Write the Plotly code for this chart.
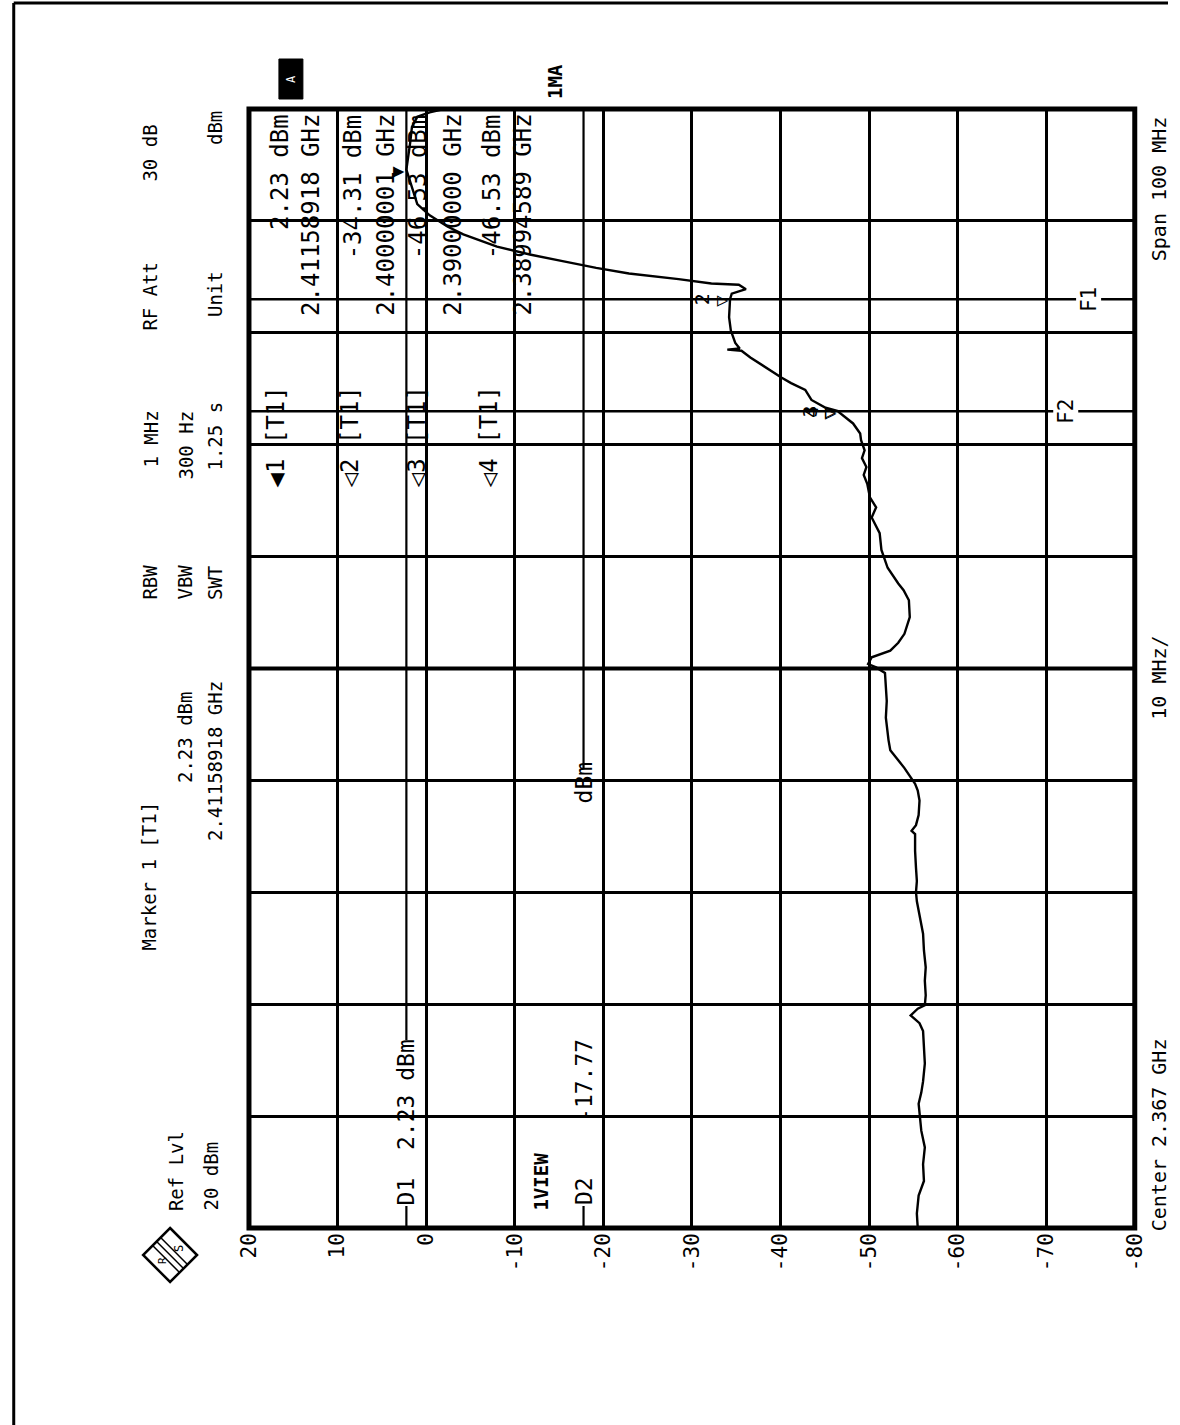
import plotly.graph_objects as go

# ---------------------------------------------------------------------------
# Spectrum analyzer plot (R&S style screen dump, printed rotated 90 degrees)
# ---------------------------------------------------------------------------
W, H = 1180, 1425
FONT = "DejaVu Sans Mono"

# screen settings
ref_level_dbm = 20
bottom_level_dbm = -80
center_ghz = 2.367
span_ghz = 0.100

level_ticks = [20, 10, 0, -10, -20, -30, -40, -50, -60, -70, -80]
level_tick_labels = ["20", "10", "0", "-10", "-20", "-30", "-40", "-50", "-60", "-70", "-80"]

# measured trace (frequency in GHz, level in dBm)
trace_freq_ghz = [
    2.3170, 2.3183, 2.3199, 2.3212, 2.3227, 2.3242, 2.3257, 2.3268, 2.3281, 2.3291,
    2.3301, 2.3317, 2.3331, 2.3346, 2.3353, 2.3360, 2.3366, 2.3369, 2.3378, 2.3391,
    2.3403, 2.3418, 2.3433, 2.3449, 2.3462, 2.3470, 2.3480, 2.3492, 2.3507, 2.3522,
    2.3525, 2.3530, 2.3539, 2.3552, 2.3561, 2.3567, 2.3574, 2.3581, 2.3588, 2.3597,
    2.3606, 2.3612, 2.3626, 2.3641, 2.3655, 2.3666, 2.3671, 2.3674, 2.3680, 2.3686,
    2.3693, 2.3701, 2.3716, 2.3731, 2.3740, 2.3746, 2.3760, 2.3776, 2.3791, 2.3805,
    2.3814, 2.3823, 2.3835, 2.3843, 2.3850, 2.3858, 2.3865, 2.3874, 2.3880, 2.3889,
    2.38994589, 2.3900, 2.3903, 2.3910, 2.3919, 2.3925, 2.3930, 2.3939, 2.3948, 2.3954,
    2.3955, 2.3956, 2.3961, 2.3972, 2.3984, 2.40000001, 2.4005, 2.4009, 2.4013, 2.4014,
    2.4018, 2.4023, 2.4028, 2.4034, 2.4040, 2.4047, 2.4058, 2.4065, 2.4075, 2.4085,
    2.4100, 2.41158918, 2.4140, 2.4154, 2.4163, 2.4167, 2.4170,
]
trace_level_dbm = [
    -55.5, -55.4, -55.6, -56.2, -56.1, -56.3, -55.9, -55.8, -55.6, -55.9,
    -56.1, -56.3, -56.2, -56.1, -55.7, -54.7, -55.5, -56.3, -56.4, -56.3,
    -56.4, -56.2, -56.1, -55.7, -55.4, -55.3, -55.4, -55.3, -55.2, -55.2,
    -54.8, -55.3, -55.6, -55.7, -55.5, -55.2, -54.6, -54.0, -53.3, -52.4,
    -52.2, -52.1, -51.9, -52.0, -51.9, -51.8, -50.8, -49.9, -50.3, -52.4,
    -53.3, -54.0, -54.6, -54.5, -53.9, -53.3, -52.1, -51.4, -51.2, -50.3,
    -50.8, -50.1, -49.8, -49.4, -49.7, -49.2, -49.5, -49.1, -49.0, -48.2,
    -46.53, -46.53, -45.1, -43.5, -42.8, -41.2, -40.1, -38.3, -36.6, -35.6,
    -34.0, -35.4, -34.9, -34.4, -34.2, -34.31, -34.5, -36.1, -35.3, -32.2,
    -28.5, -22.9, -19.2, -15.4, -11.7, -8.0, -4.2, -2.4, -0.4, 1.0,
    1.6, 2.23, 1.8, 1.6, 1.0, -0.4, -2.0,
]

# markers
marker_ids = [1, 2, 3, 4]
marker_freq_ghz = [2.41158918, 2.40000001, 2.39000000, 2.38994589]
marker_level_dbm = [2.23, -34.31, -46.53, -46.53]

# display lines and frequency lines
display_line_names = ["D1", "D2"]
display_line_dbm = [2.23, -17.77]
freq_line_names = ["F1", "F2"]
freq_line_ghz = [2.400, 2.390]

# screen geometry in page pixels
PX0, PX1 = 249, 1136
PY0, PY1 = 109, 1228
# horizontal placement correction of the rendered page (offset, scale)
OX, SX = 11.7, 0.981

f_lo = center_ghz - span_ghz / 2
f_hi = center_ghz + span_ghz / 2
freq_grid = [f_lo + i * span_ghz / 10 for i in range(11)]


def xp(px):
    return (px - OX) / SX / W


def yp(py):
    return 1 - py / H


def lvl_px(a):
    return PX0 + (ref_level_dbm - a) / (ref_level_dbm - bottom_level_dbm) * (PX1 - PX0)


def frq_py(f):
    return PY0 + (f_hi - f) / span_ghz * (PY1 - PY0)


def vtext(text, x, y, anchor="bottom", size=19, bold=False, bg=None):
    """Rotated (bottom-to-top) text placed in page pixels."""
    return dict(
        text=f"<b>{text}</b>" if bold else text,
        x=xp(x), y=yp(y), xref="paper", yref="paper",
        textangle=-90, xanchor="center", yanchor=anchor,
        showarrow=False, borderpad=0, bgcolor=bg,
        font=dict(family=FONT, size=size, color="black"),
    )


NB = "\u00a0"

fig = go.Figure()
fig.add_trace(go.Scatter(
    x=trace_level_dbm, y=trace_freq_ghz, mode="lines",
    line=dict(color="black", width=2.4), hoverinfo="skip", showlegend=False,
))

shapes = []
# outer frame of the screen
shapes.append(dict(type="rect", xref="paper", yref="paper",
                   x0=xp(PX0), x1=xp(PX1), y0=yp(PY1), y1=yp(PY0),
                   line=dict(color="black", width=5)))
# centre frequency line drawn heavier
shapes.append(dict(type="line", xref="paper", yref="y",
                   x0=xp(PX0), x1=xp(PX1), y0=center_ghz, y1=center_ghz,
                   line=dict(color="black", width=4)))
# page edge lines
shapes.append(dict(type="line", xref="paper", yref="paper", x0=0.0015, x1=0.0015,
                   y0=0, y1=yp(3), line=dict(color="black", width=3)))
shapes.append(dict(type="line", xref="paper", yref="paper", x0=0.0015, x1=1,
                   y0=yp(3), y1=yp(3), line=dict(color="black", width=3)))

# frequency lines F1 / F2
for name, f in zip(freq_line_names, freq_line_ghz):
    shapes.append(dict(type="line", xref="x", yref="y", x0=ref_level_dbm, x1=bottom_level_dbm,
                       y0=f, y1=f, line=dict(color="black", width=2.5)))

# display lines D1 / D2 with a gap for their labels
d_label_top = [1040, 768]
for name, lv, top in zip(display_line_names, display_line_dbm, d_label_top):
    shapes.append(dict(type="line", xref="x", yref="paper", x0=lv, x1=lv,
                       y0=yp(top), y1=yp(PY0), line=dict(color="black", width=2.2)))
    shapes.append(dict(type="line", xref="x", yref="paper", x0=lv, x1=lv,
                       y0=yp(PY1), y1=yp(1206), line=dict(color="black", width=2.2)))

# black status box above the screen
shapes.append(dict(type="rect", xref="paper", yref="paper",
                   x0=xp(279), x1=xp(303), y0=yp(99), y1=yp(59),
                   fillcolor="black", line=dict(color="black", width=1)))

# R&S logo (diamond)
cx, cy, r = 170, 1255, 27
pts = [(cx, cy - r), (cx + r, cy), (cx, cy + r), (cx - r, cy)]
path = "M " + " L ".join(f"{xp(x)},{yp(y)}" for x, y in pts) + " Z"
shapes.append(dict(type="path", xref="paper", yref="paper", path=path,
                   line=dict(color="black", width=2.5)))
for k in (-4, 0, 4):
    shapes.append(dict(type="line", xref="paper", yref="paper",
                       x0=xp(cx - 13 + k), y0=yp(cy - 13 - k), x1=xp(cx + 13 + k), y1=yp(cy + 13 - k),
                       line=dict(color="black", width=1.5)))

ann = []
# header block
ann += [
    vtext(f"Marker{NB}1{NB}[T1]", 148, 952, "bottom", 19),
    vtext(f"{marker_level_dbm[0]:.2f}{NB}dBm", 185, 690, "top", 19),
    vtext(f"{marker_freq_ghz[0]:.8f}{NB}GHz", 215, 680, "top", 19),
    vtext("RBW", 150, 601, "bottom", 19),
    vtext("VBW", 185, 601, "bottom", 19),
    vtext("SWT", 215, 601, "bottom", 19),
    vtext(f"1{NB}MHz", 150, 410, "top", 19),
    vtext(f"300{NB}Hz", 185, 410, "top", 19),
    vtext(f"1.25{NB}s", 215, 401, "top", 19),
    vtext(f"RF{NB}Att", 150, 332, "bottom", 19),
    vtext(f"30{NB}dB", 150, 124, "top", 19),
    vtext("Unit", 215, 318, "bottom", 19),
    vtext("dBm", 215, 110, "top", 19),
    vtext(f"Ref{NB}Lvl", 176, 1212, "bottom", 19),
    vtext(f"{ref_level_dbm}{NB}dBm", 210, 1212, "bottom", 19),
    vtext(f"Center{NB}{center_ghz:.3f}{NB}GHz", 1160, 1232, "bottom", 20),
    vtext(f"{span_ghz * 100:.0f}{NB}MHz/", 1160, 635, "top", 20),
    vtext(f"Span{NB}{span_ghz * 1000:.0f}{NB}MHz", 1160, 115, "top", 20),
    vtext("1MA", 555, 100, "bottom", 19, bold=True),
    vtext("1VIEW", 541, 1212, "bottom", 19, bold=True),
    vtext("A", 291, 79, "middle", 12, bold=False),
]
ann[-1]["font"]["color"] = "white"

# marker table inside the screen
sym = {1: "\u25c0", 2: "\u25c1", 3: "\u25c1", 4: "\u25c1"}
label_x = [276, 350, 417, 489]
value_x = [(280, 311), (353, 386), (418, 453), (492, 523)]
for mid, f, lv, lx, (vx, fx) in zip(marker_ids, marker_freq_ghz, marker_level_dbm, label_x, value_x):
    ann.append(vtext(f"{sym[mid]}{mid}{NB}[T1]", lx, 488, "bottom", 24))
    ann.append(vtext(f"{lv:.2f}{NB}dBm", vx, 113, "top", 24))
    ann.append(vtext(f"{f:.8f}{NB}GHz", fx, 113, "top", 24))

# display line labels
ann.append(vtext(f"D1{NB}{NB}{display_line_dbm[0]:.2f}{NB}dBm", lvl_px(display_line_dbm[0]), 1206, "bottom", 23))
ann.append(vtext(f"D2{NB * 4}{display_line_dbm[1]:.2f}{NB * 17}dBm", lvl_px(display_line_dbm[1]), 1206, "bottom", 23))

# frequency line labels
for name, f, x in zip(freq_line_names, freq_line_ghz, [1090, 1067]):
    ann.append(vtext(name, x, frq_py(f), "middle", 21, bg="white"))

# marker symbols on the trace
for mid, f, lv in zip(marker_ids, marker_freq_ghz, marker_level_dbm):
    glyph = "\u25b6" if mid == 1 else "\u25b7"
    ann.append(dict(text=glyph, x=lv, y=f, xref="x", yref="y", xanchor="right", yanchor="middle",
                    showarrow=False, font=dict(family=FONT, size=19, color="black"), borderpad=0))
    if mid > 1:
        ann.append(dict(text=str(mid), x=lv, y=f, xref="x", yref="y", xanchor="right", yanchor="middle",
                        xshift=-15, textangle=-90, showarrow=False,
                        font=dict(family=FONT, size=20, color="black"), borderpad=0))

# R&S logo letters
ann.append(vtext("R", cx - 8, cy + 6, "middle", 11))
ann.append(vtext("S", cx + 9, cy - 6, "middle", 12))

fig.update_layout(
    width=W, height=H, autosize=False,
    margin=dict(l=0, r=0, t=0, b=0, pad=0),
    paper_bgcolor="white", plot_bgcolor="white",
    showlegend=False,
    shapes=shapes,
    annotations=ann,
    xaxis=dict(
        domain=[xp(PX0), xp(PX1)], range=[ref_level_dbm, bottom_level_dbm],
        tickvals=level_ticks, ticktext=level_tick_labels, tickangle=-90,
        tickfont=dict(family=FONT, size=21, color="black"),
        showgrid=True, gridcolor="black", gridwidth=2.6,
        zeroline=False, showline=False, ticks="", fixedrange=True,
    ),
    yaxis=dict(
        domain=[yp(PY1), yp(PY0)], range=[f_lo, f_hi],
        tickvals=freq_grid, showticklabels=False,
        showgrid=True, gridcolor="black", gridwidth=2.6,
        zeroline=False, showline=False, ticks="", fixedrange=True,
    ),
)

fig.write_html(
    "out.html",
    config={"displayModeBar": False, "responsive": False},
    post_script="document.body.style.margin='0';document.body.style.overflow='hidden';",
)
